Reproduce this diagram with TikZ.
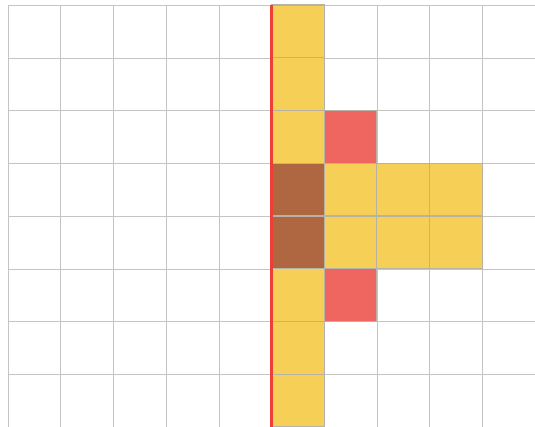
\documentclass[tikz,border=0pt]{standalone}
\usetikzlibrary{calc}
\definecolor{cyel}{HTML}{F6D056}
\definecolor{cred}{HTML}{EF6660}
\definecolor{cbrown}{HTML}{AE6740}
\definecolor{cline}{HTML}{EE3F36}
\definecolor{cgrid}{HTML}{C4C4C4}
\definecolor{cedge}{HTML}{B8B1A6}
\tikzset{
  gridline/.style={cgrid, line width=0.45pt},
  cellbox/.style={draw=cedge, line width=1.1pt},
  redline/.style={cline, line width=3pt}
}
\newcommand{\cell}[3]{% col, row, colour
  \fill[#3, cellbox] ({8+52.7*#1},{-5-52.75*#2}) rectangle ({8+52.7*(#1+1)},{-5-52.75*(#2+1)});
}
\begin{document}
\begin{tikzpicture}[x=1pt,y=1pt]
\useasboundingbox (0,0) rectangle (535,-427);
\fill[white] (0,0) rectangle (535,-427);
% grid
\foreach \i in {0,...,9} {
  \draw[gridline] ({8+52.7*\i},-5) -- ({8+52.7*\i},-427);
}
\foreach \j in {0,...,7} {
  \draw[gridline] (8,{-5-52.75*\j}) -- (535,{-5-52.75*\j});
}
% coloured cells
\cell{5}{0}{cyel}
\cell{5}{1}{cyel}
\cell{5}{2}{cyel}
\cell{5}{3}{cbrown}
\cell{5}{4}{cbrown}
\cell{5}{5}{cyel}
\cell{5}{6}{cyel}
\cell{5}{7}{cyel}
\cell{6}{2}{cred}
\cell{6}{5}{cred}
\cell{6}{3}{cyel}
\cell{7}{3}{cyel}
\cell{8}{3}{cyel}
\cell{6}{4}{cyel}
\cell{7}{4}{cyel}
\cell{8}{4}{cyel}
% red axis line
\coordinate (top) at (271.5,-5);
\coordinate (bot) at (271.5,-427);
\draw[redline] (top) -- (bot);
\end{tikzpicture}
\end{document}
